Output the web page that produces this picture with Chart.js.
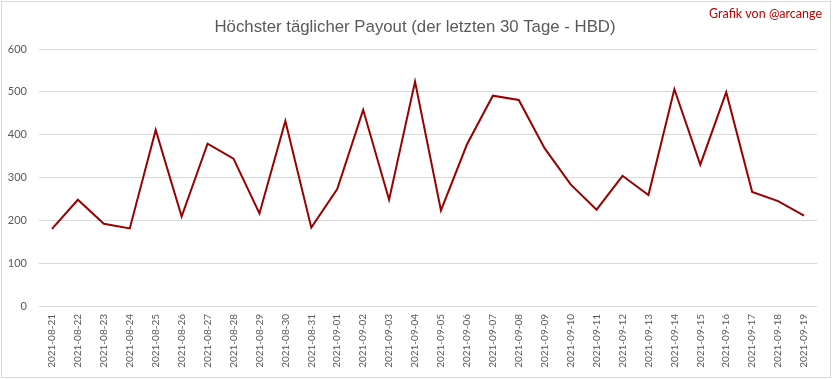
<!DOCTYPE html>
<html>
<head>
<meta charset="utf-8">
<script src="https://cdn.jsdelivr.net/npm/chart.js@4"></script>
<style>
html,body{margin:0;padding:0;background:#fff;}
canvas{display:block;}
</style>
</head>
<body>
<canvas id="c" width="833" height="379"></canvas>
<script>
const titleText = "Höchster täglicher Payout (der letzten 30 Tage - HBD)";
const creditText = "Grafik von @arcange";
const dates = ["2021-08-21","2021-08-22","2021-08-23","2021-08-24","2021-08-25","2021-08-26","2021-08-27","2021-08-28","2021-08-29","2021-08-30","2021-08-31","2021-09-01","2021-09-02","2021-09-03","2021-09-04","2021-09-05","2021-09-06","2021-09-07","2021-09-08","2021-09-09","2021-09-10","2021-09-11","2021-09-12","2021-09-13","2021-09-14","2021-09-15","2021-09-16","2021-09-17","2021-09-18","2021-09-19"];
const payouts = [180,248,192,181,411,209,379,344,216,432,183,273,458,248,524,223,377,491,481,368,284,225,304,259,506,330,499,266,245,211];
const yTicks = [0,100,200,300,400,500,600];

const FONT = "Lato, 'Liberation Sans', sans-serif";

const decor = {
  id: 'decor',
  beforeDraw(chart) {
    const ctx = chart.ctx;
    ctx.save();
    ctx.fillStyle = '#fff';
    ctx.fillRect(0,0,chart.width,chart.height);
    ctx.strokeStyle = '#d9d9d9';
    ctx.lineWidth = 1;
    ctx.strokeRect(1.5,1.5,829,376);
    ctx.restore();
  },
  afterDraw(chart) {
    const ctx = chart.ctx;
    ctx.save();
    ctx.fillStyle = '#595959';
    ctx.font = "16.8px 'Liberation Sans Narrow', 'Liberation Sans', sans-serif";
    ctx.textAlign = 'center';
    ctx.textBaseline = 'alphabetic';
    ctx.fillText(titleText, 415, 32);
    ctx.fillStyle = '#C00000';
    ctx.font = "12.5px " + FONT;
    ctx.textAlign = 'right';
    ctx.fillText(creditText, 822, 18);
    ctx.restore();
  }
};

new Chart(document.getElementById('c'), {
  type: 'line',
  data: {
    labels: dates,
    datasets: [{
      data: payouts,
      borderColor: '#990000',
      backgroundColor: '#990000',
      borderWidth: 2,
      pointRadius: 0,
      tension: 0,
      fill: false
    }]
  },
  options: {
    responsive: false,
    animation: false,
    layout: { padding: { left: 0, right: 16, top: 49, bottom: 0 } },
    plugins: { legend: { display: false }, title: { display: false }, tooltip: { enabled: false } },
    scales: {
      x: {
        offset: true,
        grid: { display: false, drawTicks: false },
        border: { display: false },
        ticks: {
          autoSkip: false, minRotation: 90, maxRotation: 90, padding: 8,
          color: '#595959', font: { family: FONT, size: 10 }
        },
        afterFit(scale) { scale.height = 73; }
      },
      y: {
        min: 0, max: 600,
        afterBuildTicks(scale) { scale.ticks = yTicks.map(v => ({ value: v })); },
        grid: { color: '#d9d9d9', lineWidth: 1, drawTicks: false },
        border: { display: false },
        ticks: { padding: 12, color: '#595959', font: { family: FONT, size: 11 } },
        afterFit(scale) { scale.width = 39; }
      }
    }
  },
  plugins: [decor]
});
</script>
</body>
</html>
